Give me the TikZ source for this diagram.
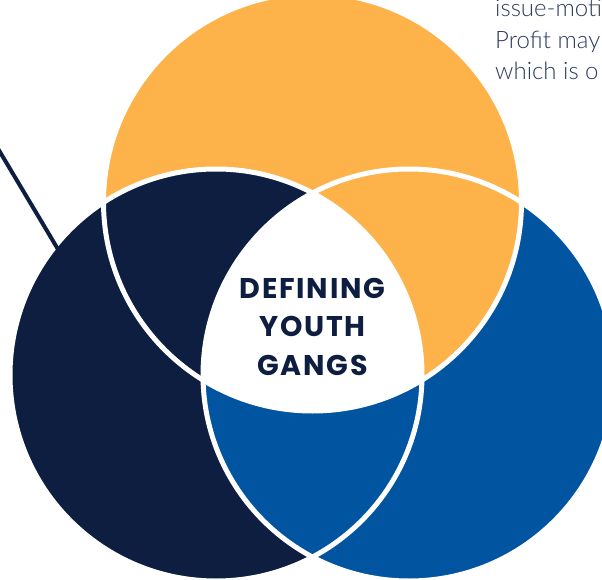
\documentclass[tikz,border=0pt]{standalone}
\usepackage{fontspec}
\newfontfamily\titlefont{Poppins}[LetterSpace=6]
\newfontfamily\lightfont{Lato Light}
\definecolor{orangec}{HTML}{FDB24A}
\definecolor{navyc}{HTML}{0D1E40}
\definecolor{bluec}{HTML}{0054A0}
\definecolor{textc}{HTML}{2B3A5E}
\tikzset{
  ring/.style={draw=white, line width=5pt},
  leader/.style={line width=4pt},
  sidetext/.style={anchor=base west, inner sep=0pt, text=textc, font=\lightfont\fontsize{24}{31}\selectfont},
  title/.style={align=center, inner sep=0pt, text=navyc, font=\titlefont\bfseries\fontsize{28.5}{38.5}\selectfont}
}
\begin{document}
\begin{tikzpicture}[x=1pt,y=-1pt]
\useasboundingbox (0,0) rectangle (602,580);
\begin{scope}
\clip (0,0) rectangle (602,580);
\def\topc{(312.5,202) circle (209)}
\def\leftc{(216,375) circle (206)}
\def\rightc{(409,375) circle (206)}
% base fills
\fill[orangec] \topc;
\fill[navyc] \leftc;
\fill[bluec] \rightc;
% top-right lens is orange
\begin{scope}
  \clip \rightc;
  \fill[orangec] \topc;
\end{scope}
% centre region white
\begin{scope}
  \clip \topc;
  \clip \leftc;
  \fill[white] \rightc;
\end{scope}
% faint edge of centre region
\begin{scope}
  \clip \topc; \clip \leftc; \clip \rightc;
  \draw[black!35, line width=0.5pt] \topc \leftc \rightc;
\end{scope}
% white outlines
\draw[ring] \topc;
\draw[ring] \leftc;
\draw[ring] \rightc;
% leader lines
\coordinate (la) at (-3,147);
\coordinate (lb) at (62,256);
\draw[leader, navyc] (la) -- (lb);
\coordinate (ta) at (280,-4);
\coordinate (tb) at (272,22);
\draw[leader, orangec] (ta) -- (tb);
% texts
\node[title] (t) at (312.5,326.5) {DEFINING\\YOUTH\\GANGS};
\node[sidetext] (s1) at (495,17) {issue-moti};
\node[sidetext] (s2) at (495,48.5) {Profit may};
\node[sidetext] (s3) at (495,80) {which is o};
\end{scope}
\end{tikzpicture}
\end{document}
